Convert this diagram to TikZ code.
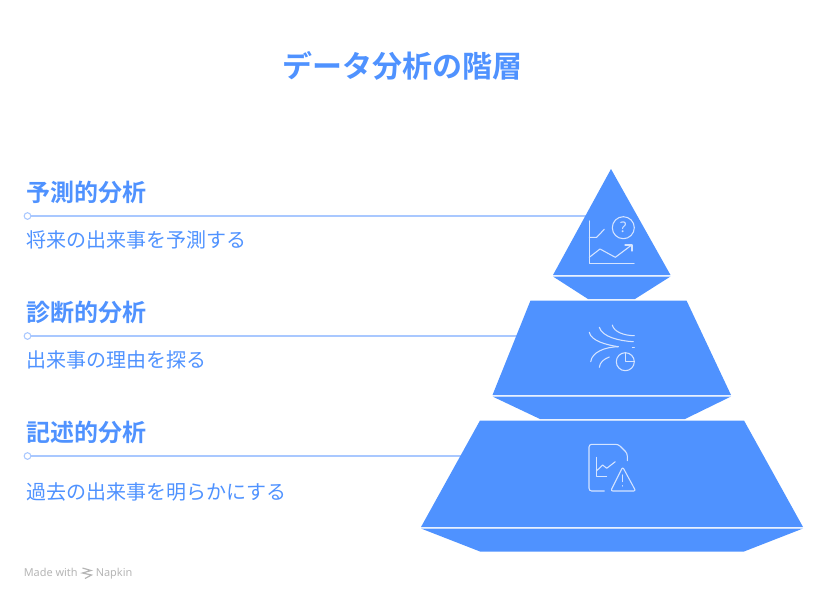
\documentclass[tikz,border=0pt]{standalone}
\usepackage{fontspec}
\newfontfamily\cjk{Noto Sans CJK JP}
\newfontfamily\cjkb{Noto Sans CJK JP Bold}
\newfontfamily\foot{Noto Sans}
\definecolor{brand}{HTML}{4F92FF}
\definecolor{pale}{HTML}{A9C8FF}
\definecolor{icon}{HTML}{D5E4FF}
\definecolor{footc}{HTML}{B5B5B5}
\tikzset{
  face/.style={fill=brand,draw=none},
  heading/.style={anchor=west,inner sep=0pt,text=brand,font=\cjkb\fontsize{18}{22}\selectfont},
  subtext/.style={anchor=west,inner sep=0pt,text=brand,font=\cjk\fontsize{15}{18}\selectfont},
  dot/.style={circle,draw=pale,fill=white,line width=0.8pt,inner sep=0pt,minimum size=5pt},
  leader/.style={draw=pale,line width=1pt},
  ico/.style={draw=icon,line width=0.8pt,line cap=round,line join=round},
  footnote/.style={anchor=base west,inner sep=0pt,text=footc,font=\foot\fontsize{8.2}{10}\selectfont},
}
\begin{document}
\begin{tikzpicture}[x=0.75pt,y=-0.75pt]
\useasboundingbox (0,0) rectangle (828,600);
\node[inner sep=0pt,text=brand,font=\cjkb\fontsize{22.5}{26}\selectfont] (title) at (402.5,66) {データ分析の階層};

% leaders
\node[dot] (d1) at (27.5,216) {};
\node[dot] (d2) at (27.5,336) {};
\node[dot] (d3) at (27.5,456) {};
\coordinate (e1) at (590,216);
\coordinate (e2) at (530,336);
\coordinate (e3) at (470,456);
\draw[leader] (d1) -- (e1);
\draw[leader] (d2) -- (e2);
\draw[leader] (d3) -- (e3);

% pyramid
\fill[face] (611,169) -- (670.5,275) -- (553,275) -- cycle;
\fill[face] (553,276.5) -- (670.5,276.5) -- (635,299) -- (588,299) -- cycle;
\fill[face] (530.5,300.5) -- (686.5,300.5) -- (731,395) -- (492.5,395) -- cycle;
\fill[face] (492.5,396.5) -- (731,396.5) -- (685,419) -- (540,419) -- cycle;
\fill[face] (480,420.5) -- (744,420.5) -- (803,527) -- (421,527) -- cycle;
\fill[face] (421,528.5) -- (803,528.5) -- (744,551.5) -- (480,551.5) -- cycle;

% labels
\node[heading] (h1) at (26,192.3) {予測的分析};
\node[subtext] (s1) at (26,240) {将来の出来事を予測する};
\node[heading] (h2) at (26,312.3) {診断的分析};
\node[subtext] (s2) at (26,360) {出来事の理由を探る};
\node[heading] (h3) at (26,432.3) {記述的分析};
\node[subtext] (s3) at (26,492) {過去の出来事を明らかにする};

% icon 1
\draw[ico] (589.3,221) -- (589.3,263.3) -- (634,263.3);
\draw[ico] (589.3,237.3) -- (596.7,237.3) -- (604.3,229.3);
\draw[ico] (589.3,257.3) -- (600,249) -- (615.3,257.3) -- (631.7,245);
\draw[ico] (625,245) -- (632,245) -- (632,251);
\draw[ico] (623.3,227.7) circle (11);
\node[inner sep=0pt,text=icon,font=\foot\fontsize{11}{12}\selectfont] (q) at (623.3,227.7) {?};

% icon 2
\draw[ico] (589.3,332.3) .. controls (591,341) and (607,345) .. (618.3,346.7);
\draw[ico] (599.3,327.3) .. controls (602,337) and (620,341) .. (633.3,341.7);
\draw[ico] (612.3,325) .. controls (614,332) and (624,335.5) .. (634.3,335.7);
\draw[ico] (590.7,361.7) .. controls (592,352) and (605,347) .. (618.3,346.7);
\draw[ico] (599.3,367.3) .. controls (600,362) and (604,359) .. (609.3,357);
\draw[ico] (632.3,347.7) -- (634.3,347.7);
\draw[ico] (625.3,361.7) circle (9);
\draw[ico] (625.3,352.7) -- (625.3,361.7) -- (634.3,361.7);

% icon 3
\draw[ico,rounded corners=2pt] (604.3,491) -- (589,491) -- (589,444.3) -- (618.3,444.3) -- (627.3,453.3) -- (627.3,460.7);
\draw[ico] (596.7,457.3) -- (596.7,476.7) -- (606.7,476.7);
\draw[ico] (596.7,470.7) -- (602.7,465) -- (606.7,468.3) -- (615.3,461.7);
\draw[ico,rounded corners=1.5pt] (622.7,467) -- (635.7,491) -- (610.7,491) -- cycle;
\draw[ico] (622.7,475) -- (622.7,481.7);
\draw[ico] (622.7,485.7) -- (622.7,486);

% footer
\node[footnote] (made) at (23.5,576.5) {Made with};
\node[footnote] (nap) at (95.5,576.5) {Napkin};
\draw[footc,line width=0.9pt] (82.5,568) -- (91,570.5) -- (82.5,573) -- (91.5,575) -- (85,578.5);
\end{tikzpicture}
\end{document}
